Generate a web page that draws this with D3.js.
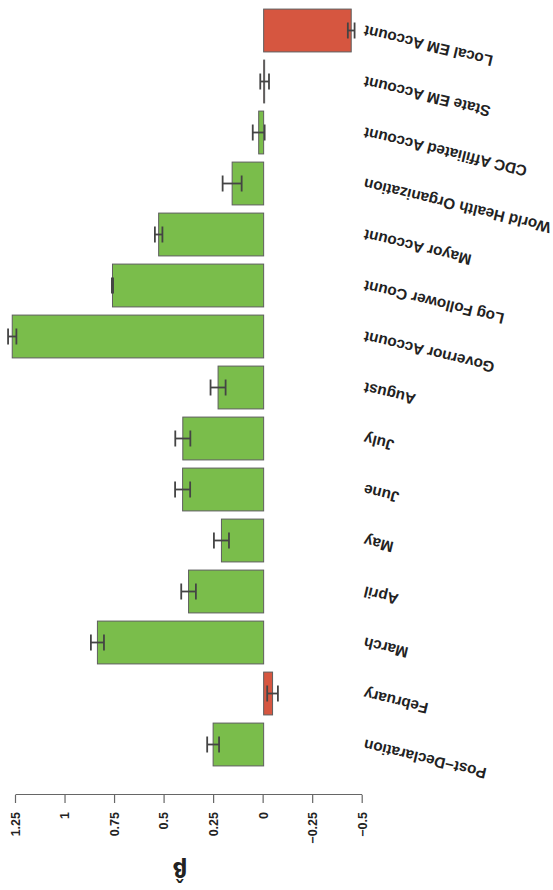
<!DOCTYPE html>
<html>
<head>
<meta charset="utf-8">
<script src="https://cdn.jsdelivr.net/npm/d3@7"></script>
<style>
body{margin:0;background:#fff}
</style>
</head>
<body>
<svg id="chartSVG" width="553" height="890"></svg>
<script>
var categories=["Post−Declaration","February","March","April","May","June","July","August","Governor Account","Log Follower Count","Mayor Account","World Health Organization","CDC Affiliated Account","State EM Account","Local EM Account"]
var estimates=[0.255,-0.045,0.839,0.379,0.213,0.409,0.408,0.230,1.269,0.763,0.530,0.159,0.025,-0.005,-0.442]
var stdErrors=[0.030,0.027,0.033,0.037,0.038,0.038,0.038,0.038,0.021,0.003,0.019,0.048,0.030,0.022,0.017]
var tickVals=[-0.5,-0.25,0,0.25,0.5,0.75,1,1.25]
var axisTitle="β̂"

var width=553
var height=890

var svg=d3.select("#chartSVG")

//---whole figure is drawn upright, then turned upside down---
var chartG=svg.append("g")
.attr("id","chartG")
.attr("transform","rotate(180 "+(width/2)+" "+(height/2)+")")
.attr("font-family","'Liberation Sans', Arial, Helvetica, sans-serif")

var xScale=d3.scaleLinear()
.domain([-0.5,1.25])
.range([190.3,537])

var yScale=d3.scaleBand()
.domain(categories)
.range([120,885])
.paddingInner(0.16)
.paddingOuter(0.08)

var data=categories.map(function(c,i){return {name:c,v:estimates[i],e:stdErrors[i]}})

//---bars---
chartG.selectAll(".bar")
.data(data)
.enter().append("rect")
.attr("class","bar")
.attr("x",function(d){return xScale(Math.min(0,d.v))})
.attr("width",function(d){return Math.abs(xScale(d.v)-xScale(0))})
.attr("y",function(d){return yScale(d.name)})
.attr("height",yScale.bandwidth())
.attr("fill",function(d){return d.v<0?"#d65640":"#7abd4b"})
.attr("stroke","#5e5e5e")
.attr("stroke-width",1)

//---error bars---
var errG=chartG.selectAll(".err")
.data(data)
.enter().append("g")
.attr("class","err")
.attr("stroke","#444")
.attr("stroke-width",1.8)
.attr("fill","none")

errG.append("line")
.attr("x1",function(d){return xScale(d.v-d.e)})
.attr("x2",function(d){return xScale(d.v+d.e)})
.attr("y1",function(d){return yScale(d.name)+yScale.bandwidth()/2})
.attr("y2",function(d){return yScale(d.name)+yScale.bandwidth()/2})

errG.append("line")
.attr("x1",function(d){return xScale(d.v-d.e)})
.attr("x2",function(d){return xScale(d.v-d.e)})
.attr("y1",function(d){return yScale(d.name)+yScale.bandwidth()/2-8})
.attr("y2",function(d){return yScale(d.name)+yScale.bandwidth()/2+8})

errG.append("line")
.attr("x1",function(d){return xScale(d.v+d.e)})
.attr("x2",function(d){return xScale(d.v+d.e)})
.attr("y1",function(d){return yScale(d.name)+yScale.bandwidth()/2-8})
.attr("y2",function(d){return yScale(d.name)+yScale.bandwidth()/2+8})

//---category labels, slanted---
chartG.selectAll(".catLabel")
.data(data)
.enter().append("text")
.attr("class","catLabel")
.attr("transform",function(d){return "translate(189 "+(yScale(d.name)+yScale.bandwidth()/2)+")rotate(13.5)"})
.attr("dy",".35em")
.attr("text-anchor","end")
.attr("font-size","15.3px")
.attr("font-weight","bold")
.attr("fill","#222")
.text(function(d){return d.name})

//---value axis on top---
var axisG=chartG.append("g")
.attr("transform","translate(0,95)")
.call(d3.axisTop(xScale)
.tickValues(tickVals)
.tickFormat(d3.format("~g"))
.tickSize(8)
.tickSizeOuter(0)
)

axisG.select(".domain").attr("stroke","#666").attr("stroke-width",1.2)
axisG.selectAll(".tick line").attr("stroke","#666").attr("stroke-width",1.2)
axisG.selectAll(".tick text")
.attr("y",0)
.attr("dy",".35em")
.attr("transform","translate(0,-17)rotate(90)")
.attr("text-anchor","end")
.attr("font-size","12.5px")
.attr("font-weight","bold")
.attr("font-family","'Liberation Sans', Arial, sans-serif")
.attr("fill","#222")

chartG.append("text")
.attr("x",373)
.attr("y",28)
.attr("text-anchor","middle")
.attr("font-family","'DejaVu Sans', sans-serif")
.attr("font-size","21px")
.attr("font-weight","bold")
.attr("fill","#222")
.text(axisTitle)
</script>
</body>
</html>
